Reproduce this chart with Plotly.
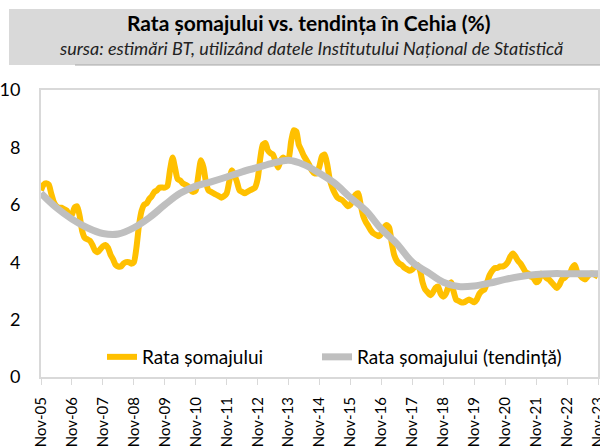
import pandas as pd
import plotly.graph_objects as go

# Monthly unemployment rate, Nov-05 .. Nov-23
rate = [
    6.5, 6.7, 6.75, 6.7, 6.4, 6.1, 5.95, 5.9, 5.9, 5.85, 5.8, 5.6,
    5.65, 5.9, 5.95, 5.6, 5.1, 4.85, 4.8, 4.75, 4.6, 4.4, 4.35, 4.45,
    4.55, 4.6, 4.5, 4.25, 4.1, 3.9, 3.85, 3.85, 3.95, 4.0, 4.0, 3.95,
    4.0, 4.5, 5.3, 5.8, 6.0, 6.05, 6.2, 6.3, 6.45, 6.5, 6.6, 6.6,
    6.6, 6.65, 7.2, 7.65, 7.3, 6.9, 6.85, 6.75, 6.7, 6.65, 6.5, 6.45,
    6.5, 7.0, 7.55, 7.3, 6.8, 6.5, 6.45, 6.4, 6.35, 6.3, 6.25, 6.3,
    6.4, 6.8, 7.2, 7.05, 6.8, 6.5, 6.45, 6.4, 6.45, 6.5, 6.55, 6.6,
    6.9, 7.6, 8.1, 8.15, 7.9, 7.8, 7.75, 7.5, 7.3, 7.55, 7.65, 7.55,
    7.6, 8.2, 8.6, 8.55, 8.1, 7.9, 7.7, 7.55, 7.4, 7.2, 7.1, 7.1,
    7.35, 7.7, 7.75, 7.4, 6.9, 6.6, 6.4, 6.25, 6.2, 6.15, 6.05, 5.95,
    6.0, 6.2, 6.35, 6.4, 6.0, 5.6, 5.4, 5.25, 5.1, 5.0, 4.95, 4.9,
    5.0, 5.2, 5.3, 5.2, 4.7, 4.25, 4.05, 3.95, 3.9, 3.8, 3.75, 3.7,
    3.75, 3.85, 3.9, 3.7, 3.3, 3.05, 2.95, 2.85, 2.95, 3.1, 3.15, 2.9,
    2.8, 2.9, 3.15, 3.3, 3.0, 2.7, 2.65, 2.6, 2.6, 2.65, 2.7, 2.65,
    2.6, 2.7, 2.9, 3.0, 3.05, 3.3, 3.55, 3.7, 3.8, 3.8, 3.85, 3.85,
    3.9, 4.0, 4.2, 4.3, 4.2, 4.05, 3.95, 3.8, 3.65, 3.6, 3.5, 3.45,
    3.3, 3.35, 3.6, 3.55, 3.45, 3.4, 3.3, 3.2, 3.1, 3.2, 3.4, 3.45,
    3.55, 3.6, 3.8, 3.9, 3.65, 3.55, 3.45, 3.4, 3.5, 3.6, 3.6, 3.55, 3.5,
]
months = pd.date_range("2005-11-01", periods=len(rate), freq="MS")

# Trend, semiannual (Nov / May), Nov-05 .. Nov-23
trend = [
    6.4, 5.9, 5.5, 5.2, 5.0, 4.98, 5.2, 5.55, 6.0, 6.4, 6.65, 6.8, 6.97,
    7.15, 7.3, 7.45, 7.55, 7.4, 7.1, 6.75, 6.25, 5.8, 5.15, 4.65, 4.0,
    3.65, 3.3, 3.15, 3.17, 3.27, 3.4, 3.5, 3.57, 3.6, 3.6, 3.6, 3.6,
]
trend_dates = pd.date_range("2005-11-01", periods=len(trend), freq="6MS")

tick_dates = pd.date_range("2005-11-01", "2023-11-01", freq="12MS")
tick_labels = [d.strftime("Nov-%y") for d in tick_dates]

title = "Rata șomajului vs. tendința în Cehia (%)"
subtitle = "sursa: estimări BT, utilizând datele Institutului Național de Statistică"
names = ["Rata șomajului", "Rata șomajului (tendință)"]

FONT = "Lato"

# plot-area edges in page pixels (body margin removed below)
SL, ST, SR, SB = 41, 90, 598, 377
W, H = SR - SL, SB - ST
FW, FH = 600, 448

def px(x):
    return (x - SL) / W

def py(y):
    return (SB - y) / H

fig = go.Figure()
fig.add_trace(go.Scatter(
    x=months, y=rate, mode="lines", name=names[0], legend="legend",
    line=dict(color="#FFC000", width=6, shape="spline", smoothing=0.6),
))
fig.add_trace(go.Scatter(
    x=trend_dates, y=trend, mode="lines", name=names[1], legend="legend2",
    line=dict(color="#BFBFBF", width=7, shape="spline", smoothing=1.0),
))

leg_common = dict(
    orientation="h", xanchor="left", yanchor="middle", y=py(357),
    bgcolor="rgba(0,0,0,0)", font=dict(size=19, family=FONT),
)

fig.update_layout(
    width=FW, height=FH,
    margin=dict(l=SL, r=FW - SR, t=ST, b=FH - SB, autoexpand=False),
    paper_bgcolor="white", plot_bgcolor="white",
    font=dict(family=FONT, size=18, color="#000"),
    showlegend=True,
    legend=dict(x=px(102), **leg_common),
    legend2=dict(x=px(317), **leg_common),
    shapes=[
        dict(type="rect", xref="paper", yref="paper",
             x0=px(9), x1=px(610), y0=py(65), y1=py(9),
             fillcolor="#D9D9D9", line=dict(width=0), layer="below"),
        dict(type="line", xref="paper", yref="paper",
             x0=px(75), x1=px(610), y0=py(65), y1=py(65),
             line=dict(color="#A6A6A6", width=1)),
    ],
    annotations=[
        dict(text="<b>" + title + "</b>", xref="paper", yref="paper",
             x=px(308), y=py(23), xanchor="center", yanchor="middle",
             showarrow=False, font=dict(size=21, family=FONT, color="#000")),
        dict(text="<i>" + subtitle + "</i>", xref="paper", yref="paper",
             x=px(311), y=py(48), xanchor="center", yanchor="middle",
             showarrow=False, font=dict(size=18, family=FONT, color="#222")),
    ],
)
fig.update_xaxes(
    range=["2005-11-01", "2023-11-01"],
    tickvals=tick_dates, ticktext=tick_labels, tickangle=-90,
    ticks="outside", ticklen=6, tickcolor="#D9D9D9",
    showline=True, linecolor="#D9D9D9", linewidth=2, mirror=True,
    showgrid=False, zeroline=False, tickfont=dict(size=15, family=FONT),
    ticklabelstandoff=6, ticklabeloverflow="allow",
)
fig.update_yaxes(
    range=[0, 10], dtick=2, ticks="", showgrid=False, zeroline=False,
    showline=True, linecolor="#D9D9D9", linewidth=2, mirror=True,
    tickfont=dict(size=18, family=FONT), ticklabelstandoff=15,
)

fig.write_html(
    "out.html",
    config={"displayModeBar": False},
    post_script="document.body.style.margin='0';document.body.style.padding='0';",
)
